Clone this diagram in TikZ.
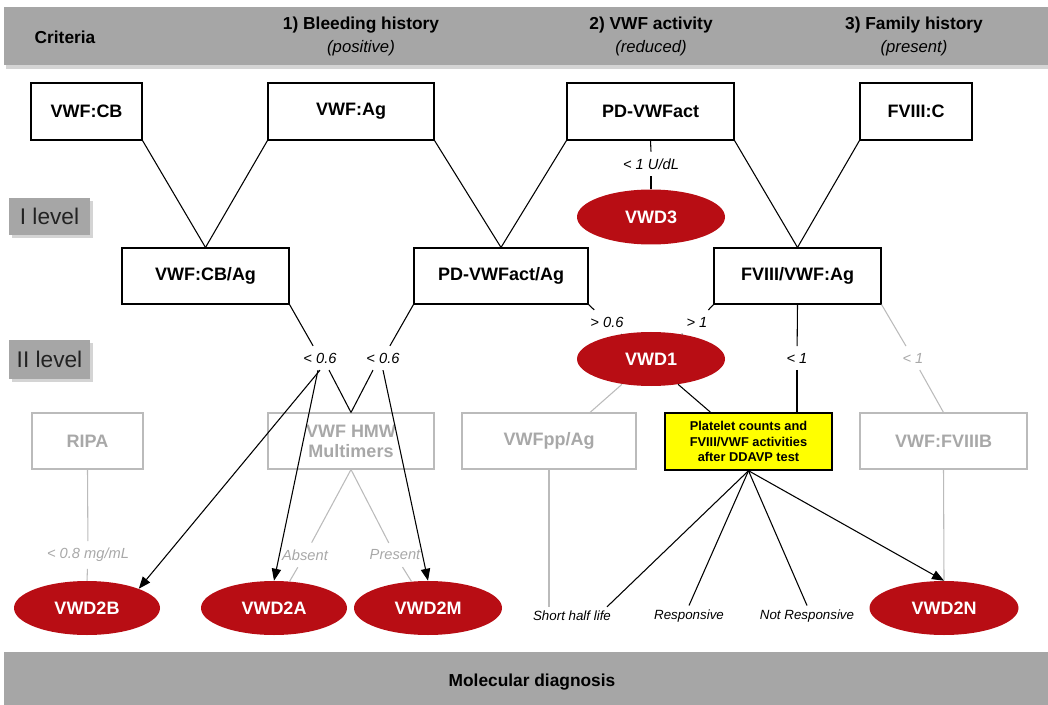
\documentclass[tikz,border=0pt]{standalone}
\usepackage{fontspec}
\setmainfont{Liberation Sans}
\usetikzlibrary{shapes.geometric,arrows.meta,calc}
\definecolor{bannergray}{HTML}{A6A6A6}
\definecolor{shadowgray}{HTML}{D4D4D4}
\definecolor{vwdred}{HTML}{B80D14}
\definecolor{lightline}{HTML}{BBBBBB}
\definecolor{lighttext}{HTML}{A8A8A8}
\definecolor{testyellow}{HTML}{FFFF00}
\definecolor{lvltext}{HTML}{222222}
\begin{document}
\begin{tikzpicture}[x=0.75pt,y=-0.75pt,
  sz/.style 2 args={minimum width=#1*0.75pt, minimum height=#2*0.75pt},
  box/.style={draw=black, line width=0.8pt, fill=white, inner sep=0pt, font=\fontsize{13.5}{16}\selectfont\bfseries},
  graybox/.style={draw=lightline, line width=0.8pt, fill=white, inner sep=0pt, text=lighttext, align=center, font=\fontsize{13.5}{15}\selectfont\bfseries},
  yelbox/.style={draw=black, line width=1.1pt, fill=testyellow, inner sep=0pt, align=center, font=\fontsize{9.6}{11.6}\selectfont\bfseries},
  vwd/.style={ellipse, fill=vwdred, text=white, inner sep=0pt, font=\fontsize{13.5}{16}\selectfont\bfseries},
  lab/.style={inner xsep=3pt, inner ysep=5pt, font=\fontsize{11}{13}\selectfont\itshape},
  glab/.style={lab, text=lighttext},
  slab/.style={inner sep=3pt, font=\fontsize{10}{12}\selectfont\itshape},
  hdr/.style={inner sep=0pt, font=\fontsize{13}{15}\selectfont\bfseries},
  hdrs/.style={inner sep=0pt, font=\fontsize{12.5}{15}\selectfont\itshape},
  lvl/.style={fill=bannergray, inner sep=0pt, text=lvltext, font=\fontsize{17}{20}\selectfont},
  conn/.style={draw=black, line width=0.8pt},
  gconn/.style={draw=lightline, line width=0.8pt},
  arr/.style={conn, -{Triangle[length=9pt,width=7pt]}},
]
\useasboundingbox (0,0) rectangle (1048,705);

% banners
\fill[shadowgray] (6,10) rectangle (1048,69);
\fill[bannergray] (4,7) rectangle (1048,65);
\node[hdr] (crit) at (65,37) {Criteria};
\node[hdr] (bh) at (361,25) {1) Bleeding history};
\node[hdrs] (bhs) at (361,48) {(positive)};
\node[hdr] (va) at (651,25) {2) VWF activity};
\node[hdrs] (vas) at (651,48) {(reduced)};
\node[hdr] (fh) at (914,25) {3) Family history};
\node[hdrs] (fhs) at (914,48) {(present)};

\fill[bannergray] (4,652) rectangle (1048,705);
\node[hdr] (mol) at (532,682) {Molecular diagnosis};

% level boxes
\fill[shadowgray] (12,201) rectangle (93,238);
\node[lvl, sz={81}{37}] (lev1) at (49.5,216.5) {I level};
\fill[shadowgray] (12,343) rectangle (93,382);
\node[lvl, sz={81}{39}] (lev2) at (49.5,359.5) {II level};

% top row
\node[box, sz={111}{57}] (cb) at (86.5,111.5) {VWF:CB};
\node[box, sz={166}{57}] (ag) at (351,111.5) {VWF:Ag};
\node[box, sz={167}{57}] (pdact) at (650.5,111.5) {PD-VWFact};
\node[box, sz={112}{57}] (fc) at (916,111.5) {FVIII:C};

% ratio row
\node[box, sz={167}{56}] (cbag) at (205.5,276) {VWF:CB/Ag};
\node[box, sz={174}{56}] (pdag) at (501,276) {PD-VWFact/Ag};
\node[box, sz={167}{56}] (fag) at (797.5,276) {FVIII/VWF:Ag};

\node[vwd, sz={148}{55}] (vwd3) at (651,217) {VWD3};
\node[vwd, sz={148}{54}] (vwd1) at (651,359) {VWD1};

% third row
\node[graybox, sz={111}{56}] (ripa) at (87.5,441) {RIPA};
\node[graybox, sz={166}{56}] (hmw) at (351,441) {VWF HMW\\Multimers};
\node[graybox, sz={174}{56}] (vpp) at (549,441) {VWFpp/Ag};
\node[yelbox, sz={167}{57}] (yel) at (748.5,441.5) {Platelet counts and\\FVIII/VWF activities\\after DDAVP test};
\node[graybox, sz={167}{56}] (fviiib) at (943.5,441) {VWF:FVIIIB};

% bottom ellipses
\node[vwd, sz={146}{54}] (vwd2b) at (87,608) {VWD2B};
\node[vwd, sz={146}{54}] (vwd2a) at (274,608) {VWD2A};
\node[vwd, sz={148}{54}] (vwd2m) at (428,608) {VWD2M};
\node[vwd, sz={149}{54}] (vwd2n) at (944,608) {VWD2N};

% labels
\node[lab] (u1) at (651,164) {< 1 U/dL};
\node[lab] (la) at (320,358) {< 0.6};
\node[lab] (lb) at (383,358) {< 0.6};
\node[lab] (lc) at (607,322) {> 0.6};
\node[lab] (ld) at (697,322) {> 1};
\node[lab] (le) at (797,358) {< 1};
\node[glab] (lf) at (913,358) {< 1};
\node[glab] (lg) at (88,555) {< 0.8 mg/mL};
\node[glab] (lh) at (305,555) {Absent};
\node[glab] (li) at (395,555) {Present};
\node[slab] (lj) at (572,616) {Short half life};
\node[slab] (lk) at (689,616) {Responsive};
\node[slab] (ll) at (807,616) {Not Responsive};

% level I connectors
\draw[conn] (cb.south east) -- (cbag.north);
\draw[conn] (ag.south west) -- (cbag.north);
\draw[conn] (ag.south east) -- (pdag.north);
\draw[conn] (pdact.south west) -- (pdag.north);
\draw[conn] (pdact.south east) -- (fag.north);
\draw[conn] (fc.south west) -- (fag.north);
\draw[conn] (pdact.south) -- (u1.north);
\draw[conn] (u1.south) -- (vwd3.north);

% level II connectors
\draw[conn] (cbag.south east) -- (la);
\draw[conn] (pdag.south west) -- (lb);
\draw[conn] ($(la.south)+(9,0)$) -- (hmw.north);
\draw[conn] ($(lb.south)+(-10,0)$) -- (hmw.north);
\draw[conn] (pdag.south east) -- (lc);
\draw[conn] (lc) -- (vwd1);
\draw[conn] (fag.south west) -- (ld);
\draw[conn] (ld) -- (vwd1);
\draw[conn] (fag.south) -- (le);
\draw[conn] (le) -- (le |- yel.north);
\draw[gconn] (fag.south east) -- (lf);
\draw[gconn] (lf) -- (fviiib.north);
\draw[gconn] ($(vwd1.south)+(-29,-2)$) -- ($(vpp.north)+(41,0)$);
\draw[conn] ($(vwd1.south)+(27,-2)$) -- ($(yel.north)+(-38,0)$);

% third row connectors
\draw[gconn] (ripa.south) -- (lg);
\draw[gconn] (lg) -- (vwd2b.north);
\draw[gconn] (hmw.south) -- (lh);
\draw[gconn] (lh) -- (vwd2a);
\draw[gconn] (hmw.south) -- (li);
\draw[gconn] (li) -- (vwd2m);
\draw[gconn] (vpp.south) -- (vpp.south |- lj.north);
\draw[gconn] (fviiib.south) -- (vwd2n.north);
\draw[conn] (yel.south) -- ($(lj.north)+(35,0)$);
\draw[conn] (yel.south) -- (lk.north);
\draw[conn] (yel.south) -- (ll.north);
\draw[arr] (yel.south) -- (vwd2n.north);

% arrows to type 2
\draw[arr] (la.south) -- (vwd2b.north east);
\draw[arr] ($(la.south)+(-2,0)$) -- (vwd2a.north);
\draw[arr] (lb.south) -- (vwd2m.north);
\end{tikzpicture}
\end{document}
